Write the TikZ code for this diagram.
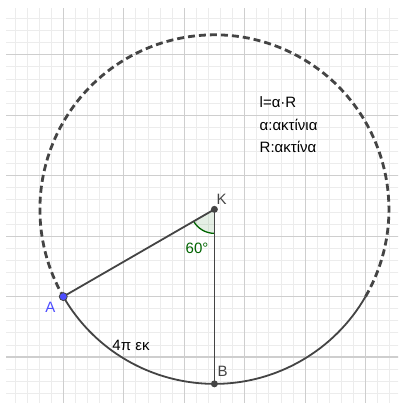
\documentclass[tikz,border=0pt]{standalone}
\usepackage{fontspec}
\setmainfont{Liberation Sans}
\definecolor{ggline}{RGB}{68,68,68}
\definecolor{ggblue}{RGB}{77,77,255}
\definecolor{gggreen}{RGB}{0,100,0}
\definecolor{gridmajor}{RGB}{206,206,206}
\definecolor{gridminor}{RGB}{236,236,236}
\tikzset{
  dashcircle/.style={draw=ggline, line width=2.8pt, dash pattern=on 7pt off 4pt},
  solidcircle/.style={draw=ggline, line width=1.8pt},
  segline/.style={draw=ggline, line width=1.8pt},
  graypoint/.style={circle, fill=ggline, inner sep=0pt, minimum size=7pt},
  bluepoint/.style={circle, fill=ggblue, draw=ggline, line width=0.8pt, inner sep=0pt, minimum size=8pt},
  lbl/.style={inner sep=0pt, font=\fontsize{15}{18}\selectfont},
  txt/.style={inner sep=0pt, anchor=base west, font=\fontsize{15}{18}\selectfont}
}
\begin{document}
\begin{tikzpicture}[x=1pt,y=1pt]
\useasboundingbox (0,0) rectangle (398,403);
\fill[white] (0,0) rectangle (398,403);
% grid
\begin{scope}
  \clip (6,0) rectangle (398,394);
  \begin{scope}[shift={(63.3,106.4)}]
    \draw[gridminor, line width=0.8pt, step=12.09pt] (-70,-120) grid (340,300);
    \draw[gridmajor, line width=1.1pt, step=60.45pt] (-70,-120) grid (340,300);
  \end{scope}
\end{scope}
% geometry
\coordinate (K) at (214.4,193.65);
\coordinate (A) at (63.28,106.4);
\coordinate (B) at (214.4,19.15);
\coordinate (C) at (365.52,106.4);
\coordinate (S1) at ([shift={(210:24)}]K);
% angle sector
\fill[gggreen, fill opacity=0.1] (K) -- (S1) arc[start angle=210, end angle=270, radius=24] -- cycle;
\draw[gggreen, line width=1.3pt] (S1) arc[start angle=210, end angle=270, radius=24];
% circle
\draw[dashcircle] (C) arc[start angle=-30, end angle=210, radius=174.5];
\draw[solidcircle] (A) arc[start angle=210, end angle=330, radius=174.5];
% segments
\draw[segline] (K) -- (A);
\draw[segline] (K) -- (B);
% points
\node[graypoint] (Kp) at (K) {};
\node[graypoint] (Bp) at (B) {};
\node[bluepoint] (Ap) at (A) {};
% labels
\node[lbl, text=ggline] (Klbl) at (221.7,204) {K};
\node[lbl, text=ggline] (Blbl) at (222.5,32) {B};
\node[lbl, text=ggblue] (Albl) at (50.3,95.5) {A};
\node[lbl, text=gggreen] (anglbl) at (197,155) {60°};
\node[lbl, text=black] (arclbl) at (131,58) {4π εκ};
\node[txt] (t1) at (259.5,295) {l=α·R};
\node[txt] (t2) at (259.5,272.5) {α:ακτίνια};
\node[txt] (t3) at (259.5,250) {R:ακτίνα};
\end{tikzpicture}
\end{document}
